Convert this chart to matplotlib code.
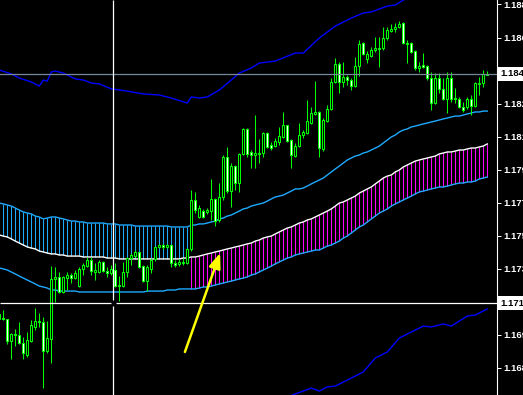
import numpy as np
import matplotlib
matplotlib.use("Agg")
import matplotlib.pyplot as plt
from matplotlib.transforms import blended_transform_factory

plt.rcParams['font.family'] = ['Liberation Sans', 'DejaVu Sans']

# candle data (one bar per entry, oldest first)
opens = [1.17084, 1.17089, 1.17084, 1.16960, 1.17000, 1.16994, 1.16949, 1.16882, 1.16960, 1.17039,
         1.17072, 1.17067, 1.16904, 1.16972, 1.17308, 1.17319, 1.17235, 1.17313, 1.17330, 1.17313,
         1.17268, 1.17364, 1.17380, 1.17414, 1.17347, 1.17347, 1.17403, 1.17352, 1.17341, 1.17358,
         1.17274, 1.17268, 1.17347, 1.17425, 1.17436, 1.17459, 1.17380, 1.17296, 1.17364, 1.17420,
         1.17487, 1.17498, 1.17487, 1.17498, 1.17397, 1.17392, 1.17403, 1.17397, 1.17476, 1.17750,
         1.17655, 1.17688, 1.17683, 1.17688, 1.17756, 1.17638, 1.17767, 1.17991, 1.17800, 1.17940,
         1.17845, 1.18008, 1.18148, 1.18019, 1.18002, 1.18008, 1.18013, 1.18125, 1.18058, 1.18052,
         1.18075, 1.18103, 1.18170, 1.18086, 1.17996, 1.18052, 1.18114, 1.18125, 1.18181, 1.18232,
         1.18243, 1.18036, 1.18192, 1.18260, 1.18411, 1.18512, 1.18411, 1.18439, 1.18422, 1.18388,
         1.18500, 1.18629, 1.18540, 1.18556, 1.18590, 1.18601, 1.18601, 1.18657, 1.18696, 1.18708,
         1.18719, 1.18741, 1.18629, 1.18629, 1.18584, 1.18489, 1.18506, 1.18500, 1.18433, 1.18293,
         1.18433, 1.18372, 1.18316, 1.18433, 1.18321, 1.18316, 1.18271, 1.18271, 1.18316, 1.18276,
         1.18400, 1.18405, 1.18450]
highs = [1.17123, 1.17134, 1.17084, 1.17005, 1.17028, 1.17067, 1.16983, 1.17011, 1.17078, 1.17145,
         1.17117, 1.17095, 1.17072, 1.17380, 1.17375, 1.17347, 1.17324, 1.17347, 1.17341, 1.17358,
         1.17375, 1.17397, 1.17431, 1.17431, 1.17397, 1.17414, 1.17408, 1.17375, 1.17386, 1.17397,
         1.17324, 1.17403, 1.17431, 1.17453, 1.17470, 1.17459, 1.17386, 1.17386, 1.17425, 1.17492,
         1.17504, 1.17504, 1.17504, 1.17504, 1.17414, 1.17420, 1.17425, 1.17481, 1.17806, 1.17795,
         1.17722, 1.17700, 1.17705, 1.17868, 1.17761, 1.17845, 1.18002, 1.18047, 1.17957, 1.17946,
         1.18013, 1.18153, 1.18153, 1.18030, 1.18226, 1.18092, 1.18131, 1.18131, 1.18075, 1.18097,
         1.18159, 1.18243, 1.18170, 1.18092, 1.18069, 1.18181, 1.18142, 1.18310, 1.18271, 1.18416,
         1.18248, 1.18209, 1.18282, 1.18433, 1.18545, 1.18523, 1.18523, 1.18450, 1.18433, 1.18551,
         1.18646, 1.18635, 1.18584, 1.18607, 1.18663, 1.18663, 1.18719, 1.18719, 1.18736, 1.18741,
         1.18752, 1.18747, 1.18646, 1.18635, 1.18590, 1.18523, 1.18573, 1.18506, 1.18467, 1.18461,
         1.18461, 1.18433, 1.18467, 1.18467, 1.18377, 1.18327, 1.18299, 1.18327, 1.18338, 1.18411,
         1.18439, 1.18478, 1.18472]
lows = [1.17072, 1.17078, 1.16944, 1.16860, 1.16932, 1.16944, 1.16860, 1.16871, 1.16955, 1.17022,
        1.17039, 1.16697, 1.16893, 1.16837, 1.17179, 1.17229, 1.17229, 1.17246, 1.17285, 1.17308,
        1.17263, 1.17330, 1.17375, 1.17330, 1.17302, 1.17341, 1.17347, 1.17319, 1.17330, 1.17263,
        1.17184, 1.17263, 1.17319, 1.17386, 1.17431, 1.17369, 1.17291, 1.17240, 1.17341, 1.17408,
        1.17481, 1.17476, 1.17481, 1.17375, 1.17375, 1.17380, 1.17386, 1.17392, 1.17464, 1.17677,
        1.17649, 1.17649, 1.17672, 1.17638, 1.17604, 1.17627, 1.17750, 1.17789, 1.17711, 1.17806,
        1.17795, 1.18002, 1.17991, 1.17929, 1.17929, 1.17957, 1.17991, 1.18041, 1.18030, 1.18047,
        1.18058, 1.18097, 1.18075, 1.17929, 1.17991, 1.18047, 1.18097, 1.18120, 1.18176, 1.18226,
        1.17991, 1.18024, 1.18187, 1.18254, 1.18405, 1.18349, 1.18383, 1.18394, 1.18366, 1.18383,
        1.18444, 1.18562, 1.18517, 1.18551, 1.18579, 1.18495, 1.18590, 1.18646, 1.18691, 1.18691,
        1.18713, 1.18624, 1.18517, 1.18573, 1.18478, 1.18467, 1.18489, 1.18422, 1.18254, 1.18288,
        1.18349, 1.18310, 1.18237, 1.18299, 1.18293, 1.18265, 1.18243, 1.18260, 1.18226, 1.18271,
        1.18338, 1.18383, 1.18450]
closes = [1.17112, 1.17084, 1.16960, 1.17000, 1.16994, 1.16949, 1.16893, 1.16966, 1.17050, 1.17072,
          1.17067, 1.16904, 1.16977, 1.17308, 1.17319, 1.17235, 1.17319, 1.17330, 1.17313, 1.17341,
          1.17364, 1.17386, 1.17414, 1.17352, 1.17358, 1.17403, 1.17352, 1.17341, 1.17364, 1.17268,
          1.17268, 1.17347, 1.17425, 1.17442, 1.17459, 1.17375, 1.17296, 1.17375, 1.17414, 1.17487,
          1.17498, 1.17487, 1.17498, 1.17397, 1.17386, 1.17403, 1.17397, 1.17476, 1.17750, 1.17694,
          1.17705, 1.17655, 1.17694, 1.17756, 1.17632, 1.17767, 1.17991, 1.17800, 1.17940, 1.17845,
          1.18008, 1.18148, 1.18008, 1.18002, 1.18013, 1.18013, 1.18125, 1.18047, 1.18041, 1.18080,
          1.18108, 1.18170, 1.18080, 1.18002, 1.18052, 1.18114, 1.18131, 1.18192, 1.18237, 1.18243,
          1.18041, 1.18198, 1.18260, 1.18411, 1.18512, 1.18411, 1.18439, 1.18422, 1.18388, 1.18500,
          1.18624, 1.18568, 1.18568, 1.18590, 1.18601, 1.18596, 1.18657, 1.18702, 1.18708, 1.18719,
          1.18736, 1.18629, 1.18624, 1.18579, 1.18489, 1.18500, 1.18495, 1.18433, 1.18293, 1.18433,
          1.18372, 1.18316, 1.18433, 1.18316, 1.18316, 1.18271, 1.18254, 1.18316, 1.18276, 1.18405,
          1.18405, 1.18456, 1.18456]

# band indicator: upper / middle / lower lines, one value per bar
band_upper = [1.17733, 1.17728, 1.17722, 1.17716, 1.17705, 1.17694, 1.17683, 1.17677, 1.17672, 1.17660,
              1.17655, 1.17644, 1.17649, 1.17655, 1.17655, 1.17649, 1.17644, 1.17638, 1.17632, 1.17632,
              1.17627, 1.17627, 1.17621, 1.17621, 1.17621, 1.17621, 1.17621, 1.17616, 1.17616, 1.17616,
              1.17610, 1.17610, 1.17610, 1.17610, 1.17604, 1.17604, 1.17604, 1.17604, 1.17604, 1.17604,
              1.17604, 1.17604, 1.17604, 1.17599, 1.17599, 1.17599, 1.17599, 1.17599, 1.17610, 1.17610,
              1.17616, 1.17616, 1.17621, 1.17627, 1.17632, 1.17644, 1.17649, 1.17660, 1.17666, 1.17677,
              1.17688, 1.17700, 1.17705, 1.17716, 1.17722, 1.17728, 1.17733, 1.17744, 1.17756, 1.17767,
              1.17772, 1.17778, 1.17789, 1.17800, 1.17812, 1.17812, 1.17817, 1.17828, 1.17840, 1.17851,
              1.17862, 1.17873, 1.17890, 1.17907, 1.17924, 1.17940, 1.17957, 1.17974, 1.17985, 1.17996,
              1.18002, 1.18013, 1.18019, 1.18030, 1.18041, 1.18052, 1.18069, 1.18086, 1.18103, 1.18114,
              1.18131, 1.18142, 1.18148, 1.18159, 1.18164, 1.18170, 1.18176, 1.18181, 1.18187, 1.18192,
              1.18198, 1.18204, 1.18209, 1.18215, 1.18220, 1.18220, 1.18226, 1.18232, 1.18237, 1.18243,
              1.18243, 1.18248, 1.18248]
band_mid = [1.17554, 1.17548, 1.17543, 1.17532, 1.17520, 1.17509, 1.17498, 1.17487, 1.17481, 1.17476,
            1.17464, 1.17459, 1.17453, 1.17448, 1.17448, 1.17442, 1.17442, 1.17436, 1.17436, 1.17436,
            1.17436, 1.17431, 1.17431, 1.17431, 1.17431, 1.17431, 1.17431, 1.17425, 1.17425, 1.17425,
            1.17420, 1.17420, 1.17420, 1.17420, 1.17420, 1.17420, 1.17420, 1.17420, 1.17420, 1.17420,
            1.17420, 1.17420, 1.17420, 1.17420, 1.17420, 1.17420, 1.17425, 1.17425, 1.17431, 1.17431,
            1.17436, 1.17442, 1.17448, 1.17453, 1.17459, 1.17464, 1.17470, 1.17476, 1.17481, 1.17487,
            1.17492, 1.17498, 1.17504, 1.17509, 1.17520, 1.17526, 1.17537, 1.17543, 1.17548, 1.17560,
            1.17571, 1.17582, 1.17593, 1.17599, 1.17610, 1.17621, 1.17627, 1.17638, 1.17644, 1.17655,
            1.17666, 1.17677, 1.17688, 1.17700, 1.17716, 1.17733, 1.17739, 1.17750, 1.17761, 1.17772,
            1.17789, 1.17800, 1.17812, 1.17823, 1.17840, 1.17856, 1.17873, 1.17884, 1.17890, 1.17907,
            1.17918, 1.17935, 1.17946, 1.17957, 1.17968, 1.17974, 1.17980, 1.17985, 1.17991, 1.17996,
            1.18008, 1.18013, 1.18019, 1.18019, 1.18024, 1.18030, 1.18030, 1.18036, 1.18041, 1.18041,
            1.18047, 1.18052, 1.18064]
band_lower = [1.17369, 1.17364, 1.17358, 1.17347, 1.17336, 1.17324, 1.17313, 1.17302, 1.17291, 1.17280,
              1.17268, 1.17263, 1.17257, 1.17246, 1.17246, 1.17240, 1.17240, 1.17240, 1.17240, 1.17240,
              1.17235, 1.17235, 1.17235, 1.17235, 1.17235, 1.17235, 1.17235, 1.17235, 1.17235, 1.17235,
              1.17235, 1.17235, 1.17235, 1.17235, 1.17235, 1.17235, 1.17235, 1.17240, 1.17240, 1.17240,
              1.17240, 1.17240, 1.17246, 1.17246, 1.17246, 1.17252, 1.17252, 1.17252, 1.17252, 1.17252,
              1.17257, 1.17263, 1.17263, 1.17268, 1.17274, 1.17280, 1.17285, 1.17291, 1.17296, 1.17302,
              1.17308, 1.17313, 1.17319, 1.17330, 1.17336, 1.17347, 1.17358, 1.17369, 1.17380, 1.17392,
              1.17403, 1.17414, 1.17425, 1.17431, 1.17442, 1.17448, 1.17453, 1.17459, 1.17464, 1.17470,
              1.17470, 1.17481, 1.17492, 1.17498, 1.17509, 1.17520, 1.17537, 1.17548, 1.17565, 1.17582,
              1.17599, 1.17610, 1.17627, 1.17644, 1.17660, 1.17677, 1.17688, 1.17700, 1.17716, 1.17728,
              1.17739, 1.17750, 1.17761, 1.17772, 1.17784, 1.17795, 1.17800, 1.17806, 1.17812, 1.17817,
              1.17823, 1.17823, 1.17828, 1.17834, 1.17840, 1.17845, 1.17845, 1.17851, 1.17851, 1.17856,
              1.17868, 1.17873, 1.17879]
# bar where the cloud moves from above the middle line to below it
cloud_flip = 48

# outer envelope (blue), read at bar indexes
env_upper_bars = [0, 3, 5, 8, 10, 11, 12, 13, 14, 16, 19, 21, 23, 25, 28, 32, 36, 40, 43, 47,
                  48, 50, 52, 55, 58, 60, 63, 65, 69, 74, 76, 80, 84, 88, 91, 93, 97, 99, 101, 103]
env_upper = [1.18478, 1.18456, 1.18433, 1.18411, 1.18388, 1.18422, 1.18416, 1.18467, 1.18472, 1.18461,
             1.18428, 1.18422, 1.18405, 1.18400, 1.18372, 1.18360, 1.18344, 1.18338, 1.18321, 1.18293,
             1.18327, 1.18321, 1.18327, 1.18366, 1.18422, 1.18461, 1.18489, 1.18517, 1.18528, 1.18573,
             1.18573, 1.18657, 1.18724, 1.18769, 1.18797, 1.18803, 1.18836, 1.18842, 1.18870, 1.18887]
env_lower_bars = [70, 74, 78, 80, 82, 84, 88, 91, 94, 97, 100, 103, 106, 108, 111, 113, 117, 119, 122]
env_lower = [1.16630, 1.16664, 1.16697, 1.16680, 1.16703, 1.16708, 1.16753, 1.16787, 1.16865, 1.16899,
             1.16977, 1.17011, 1.17044, 1.17039, 1.17056, 1.17044, 1.17100, 1.17106, 1.17140]

# price scale labels
tick_values = [1.16810, 1.16995, 1.17365, 1.17550, 1.17735, 1.17920, 1.18105, 1.18290, 1.18660, 1.18845]
cross_bar = 28.5
cross_price = 1.17173

lime = '#00FF00'
sky = '#1EAAFF'

fig = plt.figure(figsize=(5.23, 3.95), dpi=100, facecolor='black')
ax = fig.add_axes([0, 0, 497 / 523, 1])
ax.set_facecolor('black')
x_lo, x_hi = 0.175, 124.425
y_lo, y_hi = 1.16658, 1.18870
ax.set_xlim(x_lo, x_hi)
ax.set_ylim(y_lo, y_hi)

bars = np.arange(len(opens))
o = np.array(opens)
c = np.array(closes)
up = np.array(band_upper)
mid = np.array(band_mid)
lo = np.array(band_lower)

# cloud hatch
ax.vlines(bars[:cloud_flip], mid[:cloud_flip], up[:cloud_flip], color=sky, lw=0.75, zorder=1)
ax.vlines(bars[cloud_flip:], lo[cloud_flip:], mid[cloud_flip:], color='#FF00FF', lw=0.75, zorder=1)

ax.plot(bars, up, color=sky, lw=1.0, zorder=2)
ax.plot(bars, lo, color=sky, lw=1.0, zorder=2)
ax.plot(bars, mid, color='white', lw=1.0, zorder=2)
ax.plot(env_upper_bars, env_upper, color='#0000FF', lw=1.0, zorder=2)
ax.plot(env_lower_bars, env_lower, color='#0000FF', lw=1.0, zorder=2)

# candles
ax.vlines(bars, lows, highs, color=lime, lw=0.75, zorder=3)
ax.bar(bars, c - o, bottom=o, width=0.5, color=np.where(c >= o, 'black', 'white'),
       edgecolor=lime, linewidth=0.75, zorder=4)

# bid line
ax.axhline(closes[-1], color='#778899', lw=0.9, zorder=5)

# crosshair with a small gap in the middle
gx, gy = 0.6, 0.00015
ax.hlines([cross_price, cross_price], [x_lo, cross_bar + gx], [cross_bar - gx, x_hi],
          color='white', lw=0.9, zorder=6)
ax.vlines([cross_bar, cross_bar], [y_lo, cross_price + gy], [cross_price - gy, y_hi],
          color='white', lw=0.9, zorder=6)

ax.annotate('', xy=(55.2, 1.17453), xytext=(46.4, 1.16899),
            arrowprops=dict(arrowstyle='-|>,head_length=0.9,head_width=0.35', color='#FFFF00',
                            lw=1.8, shrinkA=0, shrinkB=0), zorder=7)

# axes / price scale
for s in ['left', 'top', 'bottom']:
    ax.spines[s].set_visible(False)
ax.spines['right'].set_color('white')
ax.spines['right'].set_linewidth(0.8)
ax.set_xticks([])
ax.yaxis.tick_right()
ax.set_yticks(tick_values)
ax.set_yticklabels([f"{v:.5f}" for v in tick_values], fontweight='bold')
ax.tick_params(axis='y', colors='white', length=3, width=0.7, pad=1.5, labelsize=6.8)

tr = blended_transform_factory(ax.transAxes, ax.transData)
for val in [closes[-1], cross_price]:
    ax.text(1.007, val, f"{val:.5f}", transform=tr, color='black', fontsize=6.8, va='center',
            ha='left', fontweight='bold', clip_on=False, zorder=10,
            bbox=dict(boxstyle='square,pad=0.25', fc='white', ec='none'))

fig.savefig("out.png", dpi=100, facecolor='black')
